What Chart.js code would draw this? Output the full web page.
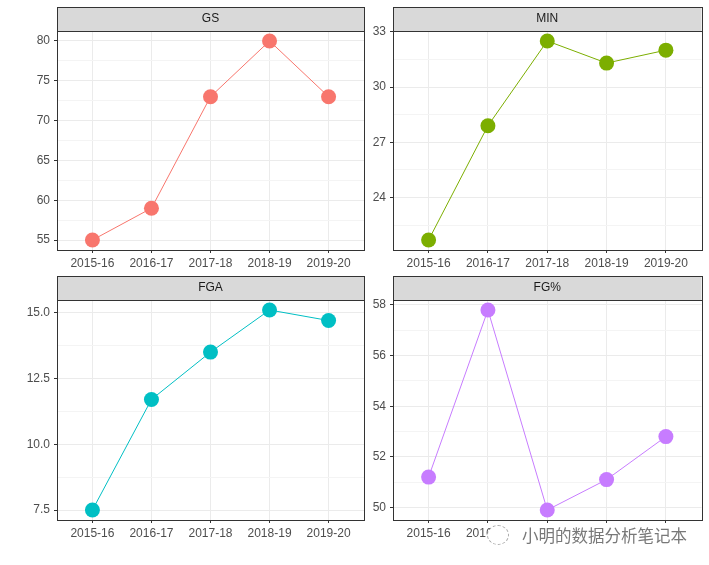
<!DOCTYPE html>
<html>
<head>
<meta charset="utf-8">
<script src="https://cdn.jsdelivr.net/npm/chart.js@4.4.0/dist/chart.umd.min.js"></script>
<style>
body {margin:0; background:#fff; width:709px; height:565px; overflow:hidden; position:relative;}
canvas {position:absolute;}
#mark {position:absolute; left:506px; top:525px; width:190px; height:21px; padding-left:16px; box-sizing:border-box;
  background:#fff; font:16.5px "Noto Sans CJK SC"; line-height:20px; color:rgba(105,105,105,0.9);
  text-shadow:0 0 1px #fff; white-space:nowrap;}
#icon {position:absolute; left:487px; top:525px; width:20px; height:18px; border:1px dashed rgba(150,150,150,0.8); border-radius:50%; background:#fff;}
</style>
</head>
<body>
<canvas id="c1" width="372" height="280" style="left:0;top:0;"></canvas>
<canvas id="c2" width="349" height="280" style="left:360px;top:0;"></canvas>
<canvas id="c3" width="372" height="295" style="left:0;top:270px;"></canvas>
<canvas id="c4" width="349" height="295" style="left:360px;top:270px;"></canvas>
<div id="mark">小明的数据分析笔记本</div>
<div id="icon"></div>
<script>
// seasons on the x axis
var seasons = ['2015-16','2016-17','2017-18','2018-19','2019-20'];

// values per panel
var gsValues  = [55, 59, 73, 80, 73];
var minValues = [21.7, 27.9, 32.5, 31.3, 32.0];
var fgaValues = [7.5, 11.7, 13.5, 15.1, 14.7];
var fgpValues = [51.2, 57.8, 49.9, 51.1, 52.8];

// y ticks (major with labels, minor grid only)
var gsTicks  = [55, 60, 65, 70, 75, 80];
var gsLabels = ['55','60','65','70','75','80'];
var gsMinor  = [57.5, 62.5, 67.5, 72.5, 77.5];
var minTicks  = [24, 27, 30, 33];
var minLabels = ['24','27','30','33'];
var minMinor  = [22.5, 25.5, 28.5, 31.5];
var fgaTicks  = [7.5, 10, 12.5, 15];
var fgaLabels = ['7.5','10.0','12.5','15.0'];
var fgaMinor  = [8.75, 11.25, 13.75];
var fgpTicks  = [50, 52, 54, 56, 58];
var fgpLabels = ['50','52','54','56','58'];
var fgpMinor  = [51, 53, 55, 57];

var FONT = 'Liberation Sans, Arial, sans-serif';

var panelPlugin = {
  id: 'panel',
  afterDraw: function(chart) {
    var ctx = chart.ctx, a = chart.chartArea;
    var title = chart.options.plugins.panel.title;
    ctx.save();
    ctx.fillStyle = '#D9D9D9';
    ctx.fillRect(a.left, a.top - 24, a.right - a.left, 24);
    ctx.strokeStyle = '#333333';
    ctx.lineWidth = 1;
    ctx.strokeRect(Math.round(a.left) + 0.5, Math.round(a.top - 24) + 0.5, Math.round(a.right - a.left), 24);
    ctx.strokeRect(Math.round(a.left) + 0.5, Math.round(a.top) + 0.5, Math.round(a.right - a.left), Math.round(a.bottom - a.top));
    ctx.fillStyle = '#1A1A1A';
    ctx.font = '12px ' + FONT;
    ctx.textAlign = 'center';
    ctx.textBaseline = 'middle';
    ctx.fillText(title, (a.left + a.right) / 2, a.top - 12);
    ctx.restore();
  }
};

function makePanel(id, title, values, color, ticks, labels, minor, yw, padTop, padRight, xh) {
  var lo = Math.min.apply(null, values), hi = Math.max.apply(null, values);
  var ex = (hi - lo) * 0.05;
  var tickValues = ticks.concat(minor).sort(function(a, b) { return a - b; });
  function isMajor(v) { return ticks.indexOf(v) >= 0; }
  new Chart(document.getElementById(id), {
    type: 'line',
    data: {
      datasets: [{
        data: values.map(function(v, i) { return {x: i, y: v}; }),
        borderColor: color,
        backgroundColor: color,
        borderWidth: 1,
        pointRadius: 7.5,
        pointBorderWidth: 0,
        pointBackgroundColor: color,
        tension: 0
      }]
    },
    options: {
      responsive: false,
      animation: false,
      events: [],
      layout: {padding: {top: padTop, right: padRight, left: 0, bottom: 0}},
      plugins: {legend: {display: false}, tooltip: {enabled: false}, panel: {title: title}},
      scales: {
        x: {
          type: 'linear',
          min: -0.6,
          max: seasons.length - 0.4,
          afterBuildTicks: function(s) { s.ticks = seasons.map(function(n, i) { return {value: i}; }); },
          afterFit: function(s) { s.height = xh; },
          border: {display: false},
          grid: {color: '#EBEBEB', lineWidth: 1, tickLength: 3, tickColor: '#333333'},
          ticks: {
            autoSkip: false, maxRotation: 0, padding: 3,
            color: '#4D4D4D', font: {family: FONT, size: 12},
            callback: function(v) { return seasons[v]; }
          }
        },
        y: {
          min: lo - ex,
          max: hi + ex,
          afterBuildTicks: function(s) { s.ticks = tickValues.map(function(v) { return {value: v}; }); },
          afterFit: function(s) { s.width = yw; },
          border: {display: false},
          grid: {
            color: function(c) { return isMajor(c.tick.value) ? '#EBEBEB' : '#F4F4F4'; },
            lineWidth: 1,
            tickLength: 3,
            tickColor: function(c) { return isMajor(c.tick.value) ? '#333333' : 'rgba(0,0,0,0)'; }
          },
          ticks: {
            autoSkip: false, padding: 4,
            color: '#4D4D4D', font: {family: FONT, size: 12},
            callback: function(v) { var k = ticks.indexOf(v); return k >= 0 ? labels[k] : ''; }
          }
        }
      }
    },
    plugins: [panelPlugin]
  });
}

makePanel('c1', 'GS',  gsValues,  '#F8766D', gsTicks,  gsLabels,  gsMinor,  57, 31, 8, 30);
makePanel('c2', 'MIN', minValues, '#7CAE00', minTicks, minLabels, minMinor, 33, 31, 7, 30);
makePanel('c3', 'FGA', fgaValues, '#00BFC4', fgaTicks, fgaLabels, fgaMinor, 57, 30, 8, 45);
makePanel('c4', 'FG%', fgpValues, '#C77CFF', fgpTicks, fgpLabels, fgpMinor, 33, 30, 7, 45);
</script>
</body>
</html>
